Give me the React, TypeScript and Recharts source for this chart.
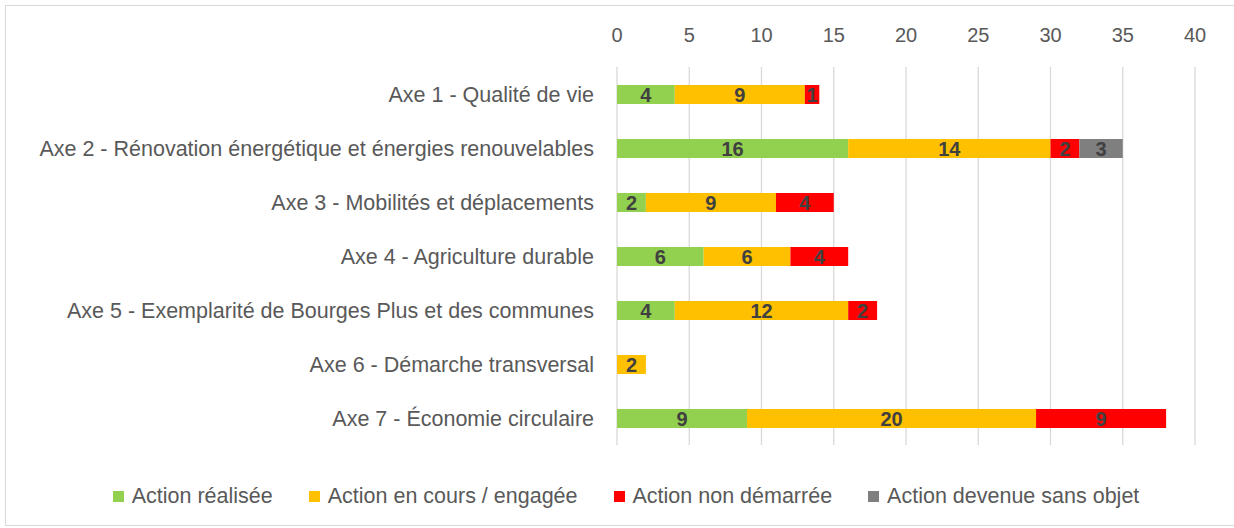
import { BarChart, Bar, XAxis, YAxis, CartesianGrid, LabelList } from 'recharts';

const categories = [
  'Axe 1 - Qualité de vie',
  'Axe 2 - Rénovation énergétique et énergies renouvelables',
  'Axe 3 - Mobilités et déplacements',
  'Axe 4 - Agriculture durable',
  'Axe 5 - Exemplarité de Bourges Plus et des communes',
  'Axe 6 - Démarche transversal',
  'Axe 7 - Économie circulaire',
];
const realisee = [4, 16, 2, 6, 4, 0, 9];
const enCours = [9, 14, 9, 6, 12, 2, 20];
const nonDemarree = [1, 2, 4, 4, 2, 0, 9];
const sansObjet = [0, 3, 0, 0, 0, 0, 0];
const xTicks = [0, 5, 10, 15, 20, 25, 30, 35, 40];

const series = [
  { key: 'realisee', name: 'Action réalisée', color: '#92d050' },
  { key: 'enCours', name: 'Action en cours / engagée', color: '#ffc000' },
  { key: 'nonDemarree', name: 'Action non démarrée', color: '#ff0000' },
  { key: 'sansObjet', name: 'Action devenue sans objet', color: '#7f7f7f' },
];

const data = categories.map((name, i) => ({
  name,
  realisee: realisee[i],
  enCours: enCours[i],
  nonDemarree: nonDemarree[i],
  sansObjet: sansObjet[i],
}));

const font = '"Liberation Sans", Arial, sans-serif';

export default function App() {
  return (
    <div style={{ position: 'absolute', left: 0, top: 0, width: 1234, height: 528, fontFamily: font }}>
      <div
        style={{
          position: 'absolute',
          left: 5,
          top: 5,
          width: 1240,
          height: 519,
          border: '1px solid #d9d9d9',
        }}
      />
      <BarChart
        layout="vertical"
        width={1234}
        height={528}
        data={data}
        barSize={19}
        margin={{ top: 10, right: 39, left: 0, bottom: 83 }}
      >
        <CartesianGrid horizontal={false} stroke="#d9d9d9" strokeWidth={1.3} />
        <XAxis
          type="number"
          orientation="top"
          domain={[0, 40]}
          ticks={xTicks}
          height={57}
          axisLine={false}
          tickLine={false}
          tickMargin={19}
          tick={{ fill: '#595959', fontSize: 20, fontFamily: font }}
        />
        <YAxis
          type="category"
          dataKey="name"
          width={617}
          axisLine={false}
          tickLine={false}
          tickMargin={17}
          interval={0}
          tick={{ fill: '#595959', fontSize: 21.5, fontFamily: font }}
        />
        {series.map((s) => (
          <Bar key={s.key} dataKey={s.key} name={s.name} stackId="a" fill={s.color} isAnimationActive={false}>
            <LabelList
              dataKey={s.key}
              position="center"
              formatter={(v: number) => (v ? v : '')}
              style={{ fill: '#404040', fontSize: 20, fontWeight: 'bold', fontFamily: font }}
            />
          </Bar>
        ))}
      </BarChart>
      {/* legend drawn as html so the order and spacing match the original */}
      <div
        style={{
          position: 'absolute',
          left: 9,
          top: 483,
          width: 1234,
          display: 'flex',
          justifyContent: 'center',
          gap: 36,
          fontSize: 21.5,
          color: '#595959',
          lineHeight: '26px',
        }}
      >
        {series.map((s) => (
          <div key={s.key} style={{ display: 'flex', alignItems: 'center' }}>
            <span style={{ display: 'inline-block', width: 11, height: 11, background: s.color, marginRight: 8 }} />
            <span>{s.name}</span>
          </div>
        ))}
      </div>
    </div>
  );
}
